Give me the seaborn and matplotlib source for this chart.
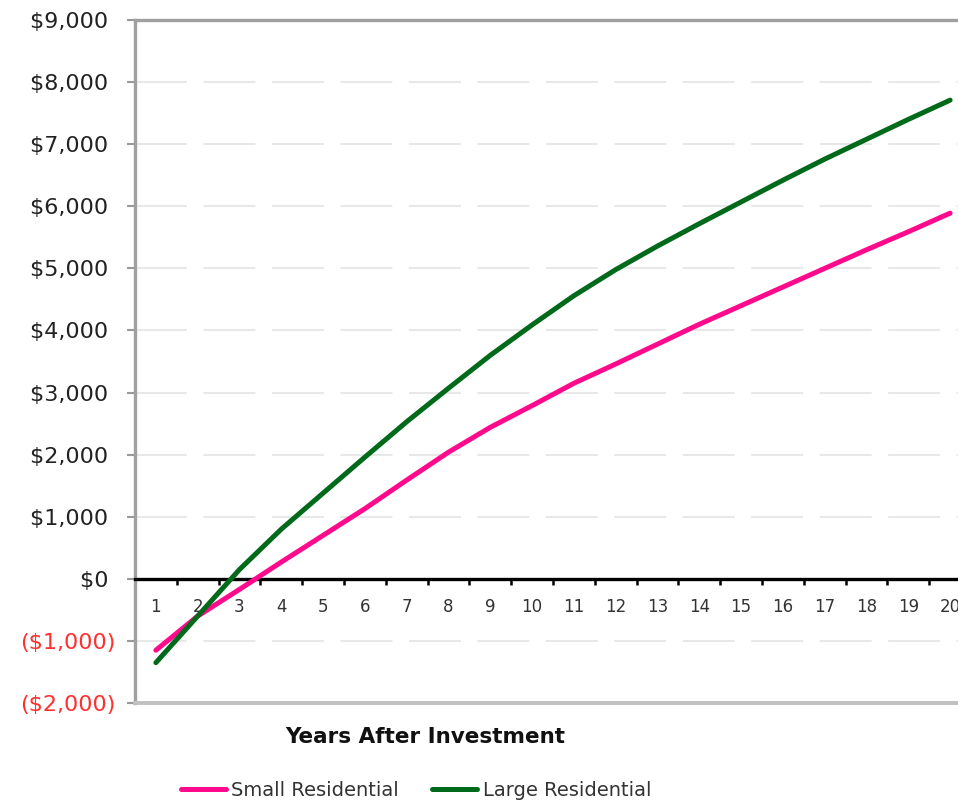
import numpy as np
import pandas as pd
import matplotlib
matplotlib.use("Agg")
import matplotlib.pyplot as plt
import seaborn as sns

years = list(range(1, 21))
small_res = [-1150, -600, -170, 270, 700, 1130, 1590, 2040, 2440, 2790,
             3150, 3460, 3780, 4100, 4400, 4700, 5000, 5300, 5590, 5890]
large_res = [-1350, -600, 150, 800, 1380, 1960, 2530, 3070, 3600, 4090,
             4560, 4980, 5360, 5720, 6070, 6420, 6760, 7080, 7400, 7710]
series_names = ["Small Residential", "Large Residential"]
y_ticks = list(range(-2000, 9001, 1000))

sns.set_style("white")
plt.rcParams['font.family'] = ['DejaVu Sans']
plt.rcParams['lines.scale_dashes'] = False

df = pd.DataFrame({
    "Year": years * 2,
    "Value": small_res + large_res,
    "Series": [series_names[0]] * 20 + [series_names[1]] * 20,
})

fig = plt.figure(figsize=(9.58, 8.05), dpi=100)
ax = fig.add_axes([0.1409, 0.1267, 0.8727, 0.8484])

palette = {"Small Residential": "#ff0a8c", "Large Residential": "#006a1a"}
sns.lineplot(data=df, x="Year", y="Value", hue="Series", palette=palette,
             linewidth=3.6, ax=ax, legend=False, zorder=3)

ax.set_xlim(0.5, 20.5)
ax.set_ylim(-2000, 9000)
ax.set_yticks(y_ticks)

def money(v):
    if v < 0:
        return "(${:,})".format(-v)
    return "${:,} ".format(v)

ax.set_yticklabels([money(v) for v in y_ticks])
for lbl, v in zip(ax.get_yticklabels(), y_ticks):
    lbl.set_color("#ff3030" if v < 0 else "#222222")
ax.tick_params(axis="y", labelsize=16, length=6, width=1.5, color="#999999",
               pad=8, left=True)
ax.set_xticks([])
ax.set_xlabel("")
ax.set_ylabel("")

ax.yaxis.grid(True, color="#e8e8e8", linewidth=1.5, linestyle=(0, (37.4, 11.9)))
ax.set_axisbelow(True)
# no grid line under the zero axis
ax.yaxis.get_gridlines()[y_ticks.index(0)].set_visible(False)

for side in ["left", "top"]:
    ax.spines[side].set_color("#a0a0a0")
    ax.spines[side].set_linewidth(2.4)
ax.spines["bottom"].set_color("#c0c0c0")
ax.spines["bottom"].set_linewidth(2.8)
ax.spines["right"].set_visible(False)

# zero line acting as the category axis
sec = ax.secondary_xaxis(2 / 11)
sec.set_zorder(2.5)
sec.spines["bottom"].set_color("black")
sec.spines["bottom"].set_linewidth(2.4)
sec.set_xticks(np.arange(1.5, 20, 1))
sec.set_xticklabels([])
sec.set_xticks(years, [str(y) for y in years], minor=True)
sec.tick_params(axis="x", which="major", length=4, width=1.8, color="black",
                direction="out")
sec.tick_params(axis="x", which="minor", length=0, pad=14, labelsize=12,
                labelcolor="#333333")

fig.text(425 / 958, 1 - 737 / 805, "Years After Investment", ha="center",
         va="center", fontsize=15.5, fontweight="bold", color="#111111")

handles = ax.get_lines()[:2]
leg = fig.legend(handles, series_names, loc="center", ncol=2,
                 bbox_to_anchor=(416 / 958, 1 - 790 / 805), frameon=False,
                 fontsize=14, handlelength=2.3, handletextpad=0.3,
                 columnspacing=1.7)
for t in leg.get_texts():
    t.set_color("#333333")

fig.savefig("out.png", dpi=100)
